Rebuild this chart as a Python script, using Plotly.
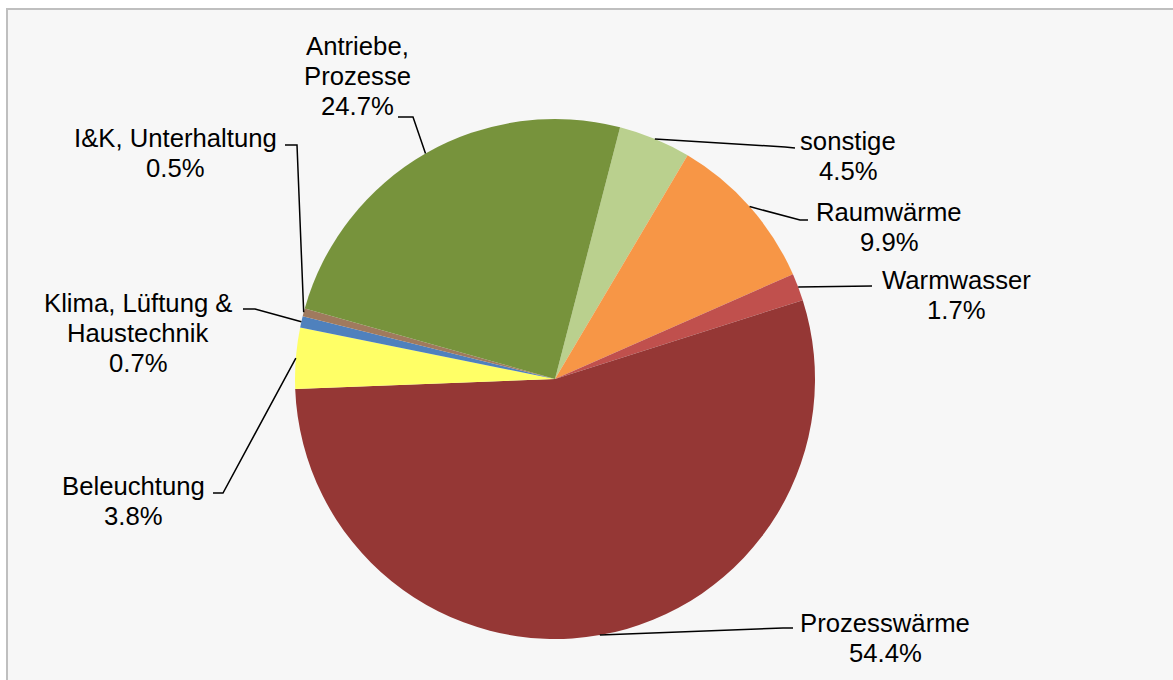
import math
import plotly.graph_objects as go

# ---------------- data (clockwise order, starting at the sonstige slice) ----------------
labels = ["sonstige", "Raumwärme", "Warmwasser", "Prozesswärme", "Beleuchtung",
          "Klima, Lüftung & Haustechnik", "I&K, Unterhaltung", "Antriebe, Prozesse"]
values = [4.5, 9.9, 1.7, 54.4, 3.8, 0.7, 0.5, 24.7]
colors = ["#BAD08E", "#F79646", "#C0504D", "#953735", "#FFFF66",
          "#4F81BD", "#A07A5E", "#77933C"]
# how each category name is broken into lines in its data label
label_lines = [["sonstige"], ["Raumwärme"], ["Warmwasser"], ["Prozesswärme"], ["Beleuchtung"],
               ["Klima, Lüftung &", "Haustechnik"], ["I&K, Unterhaltung"], ["Antriebe,", "Prozesse"]]

# ---------------- layout constants (pixels) ----------------
W, H = 1173, 680
CX, CY, R = 555, 379, 260          # pie centre / radius
ROTATION = 14.5                    # start angle of first slice, degrees clockwise from 12 o'clock
FONT_SIZE = 25.7
LINE_GAP = 29.8
# label block: centre x and first-line baseline y
label_anchor = [(848, 150), (889, 221), (956, 289), (885, 632), (133, 495),
                (138, 312), (175, 147), (357, 55)]
# leader-line points near the label (from label side toward pie)
leader_pts = [[(795, 148), (785, 147)],
              [(808, 220), (800, 220)],
              [(872, 286)],
              [(793, 628), (783, 628)],
              [(213, 493), (223, 493)],
              [(243, 309), (255, 309)],
              [(285, 145), (297, 145)],
              [(398, 117), (413, 117)]]


def px(x):
    return x / W


def py(y):
    return 1 - y / H


fig = go.Figure()
fig.add_trace(go.Pie(
    labels=labels, values=values, sort=False, direction="clockwise",
    rotation=ROTATION,
    marker=dict(colors=colors, line=dict(width=0)),
    textinfo="none", hoverinfo="label+percent", showlegend=False,
    domain=dict(x=[px(CX - R), px(CX + R)], y=[py(CY + R), py(CY - R)]),
))

total = sum(values)
cum = 0.0
shapes = [dict(type="rect", xref="paper", yref="paper", layer="below",
               x0=px(7), x1=1.02, y0=-0.02, y1=py(9),
               fillcolor="#F7F7F7", line=dict(color="#BFBFBF", width=2))]
annotations = []
for i, v in enumerate(values):
    mid = ROTATION + 360 * (cum + v / 2) / total
    cum += v
    a = math.radians(mid)
    rx, ry = CX + R * math.sin(a), CY - R * math.cos(a)
    pts = leader_pts[i] + [(rx, ry)]
    path = "M " + " L ".join(f"{px(x):.5f},{py(y):.5f}" for x, y in pts)
    shapes.append(dict(type="path", xref="paper", yref="paper", path=path,
                       line=dict(color="black", width=1.5), layer="above"))
    lines = label_lines[i] + [f"{v:.1f}%"]
    x0, b0 = label_anchor[i]
    for k, t in enumerate(lines):
        base = b0 + k * LINE_GAP
        annotations.append(dict(
            x=px(x0), y=py(base - 9), xref="paper", yref="paper",
            text=t, showarrow=False, xanchor="center", yanchor="middle",
            font=dict(family="Liberation Sans, Arial, sans-serif", size=FONT_SIZE, color="black"),
        ))

fig.update_layout(
    width=W, height=H, margin=dict(l=0, r=0, t=0, b=0),
    paper_bgcolor="white", plot_bgcolor="white",
    shapes=shapes, annotations=annotations,
)

fig.write_html("out.html", config={"displayModeBar": False},
               post_script="document.body.style.margin='0px';")
